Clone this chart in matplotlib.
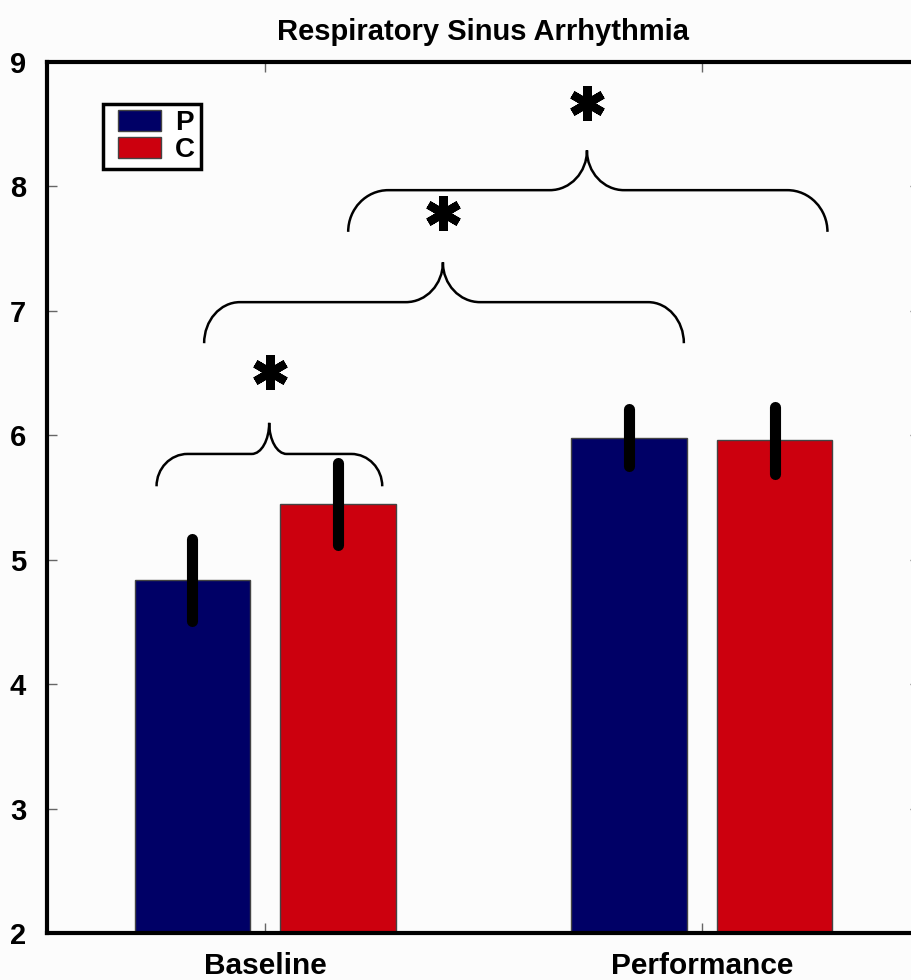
import matplotlib
matplotlib.use("Agg")
import matplotlib.pyplot as plt
from matplotlib.path import Path
from matplotlib.patches import PathPatch, Patch, Rectangle
from matplotlib.legend_handler import HandlerPatch

plt.rcParams['font.family'] = ['Liberation Sans', 'DejaVu Sans']
plt.rcParams['font.weight'] = 'bold'

# data
conditions = ["Baseline", "Performance"]
groups = ["P", "C"]
means_p = [4.84, 5.98]
means_c = [5.45, 5.96]
err_p = [0.33, 0.23]
err_c = [0.33, 0.27]
yticks = [2, 3, 4, 5, 6, 7, 8, 9]

# significance braces: (x_start, x_end, x_tip, y_end, y_line, y_tip, corner_r, tip_r)
braces = [
    (-0.249, 0.268, 0.009, 5.59, 5.85, 6.10, 0.071, 0.040),
    (-0.140, 0.959, 0.407, 6.74, 7.07, 7.39, 0.082, 0.085),
    (0.190, 1.288, 0.737, 7.635, 7.97, 8.29, 0.092, 0.085),
]
stars = [(0.011, 6.51), (0.407, 7.79), (0.737, 8.67)]

navy = "#000066"
red = "#cc000e"
bg = "#fcfcfc"

fig = plt.figure(figsize=(9.12, 9.8), dpi=100, facecolor=bg)
ax = fig.add_axes([47 / 912, 47 / 980, 873 / 912, 871 / 980], facecolor=bg)

x = list(range(len(conditions)))
off = 0.167
w = 0.265
xp = [i - off for i in x]
xc = [i + off for i in x]
ax.bar(xp, means_p, width=w, bottom=0, color=navy, edgecolor="#444444",
       linewidth=1.0, zorder=2)
ax.bar(xc, means_c, width=w, bottom=0, color=red, edgecolor="#444444",
       linewidth=1.0, zorder=2)

for xs, ms, es in ((xp, means_p, err_p), (xc, means_c, err_c)):
    eb = ax.errorbar(xs, ms, yerr=es, fmt="none", ecolor="black",
                     elinewidth=8, capsize=0, zorder=3)
    for lc in eb[2]:
        lc.set_capstyle("round")

k = 0.5523
for (x0, x1, xm, ye, yl, yt, r, rt) in braces:
    hy = yl - ye
    ty = yt - yl
    verts = [
        (x0, ye),
        (x0, ye + k * hy), (x0 + r * (1 - k), yl), (x0 + r, yl),
        (xm - rt, yl),
        (xm - rt + k * rt, yl), (xm, yt - k * ty), (xm, yt),
        (xm, yt - k * ty), (xm + rt - k * rt, yl), (xm + rt, yl),
        (x1 - r, yl),
        (x1 - r * (1 - k), yl), (x1, ye + k * hy), (x1, ye),
    ]
    codes = [Path.MOVETO,
             Path.CURVE4, Path.CURVE4, Path.CURVE4,
             Path.LINETO,
             Path.CURVE4, Path.CURVE4, Path.CURVE4,
             Path.CURVE4, Path.CURVE4, Path.CURVE4,
             Path.LINETO,
             Path.CURVE4, Path.CURVE4, Path.CURVE4]
    ax.add_patch(PathPatch(Path(verts, codes), facecolor="none",
                           edgecolor="black", linewidth=1.8, zorder=4))

for sx, sy in stars:
    ax.plot([sx], [sy], marker=(6, 2, 0), markersize=25,
            markeredgewidth=6, color="black", zorder=5)

ax.set_xlim(-0.5, 1.5)
ax.set_ylim(2, 9)
ax.set_yticks(yticks)
ax.set_yticklabels([str(t) for t in yticks], fontsize=21, fontweight="bold")
ax.set_xticks(x)
ax.set_xticklabels(conditions, fontsize=21.5, fontweight="bold")
ax.tick_params(axis="both", direction="in", length=7, width=1,
               color="#666666", top=True, right=True)
ax.tick_params(axis="y", pad=15)
ax.tick_params(axis="x", pad=14)

for side in ("left", "top", "bottom", "right"):
    ax.spines[side].set_linewidth(3)
    ax.spines[side].set_color("black")

ax.set_title("Respiratory Sinus Arrhythmia", fontsize=21, fontweight="bold",
             pad=16)


def inset_swatch(legend, orig_handle, xdescent, ydescent, width, height,
                 fontsize):
    # leave a small gap on the left of each legend swatch
    gap = 0.34 * fontsize
    return Rectangle((-xdescent + gap, -ydescent), width - gap, height)


handles = [Patch(facecolor=navy, edgecolor="#444444", linewidth=1),
           Patch(facecolor=red, edgecolor="#444444", linewidth=1)]
leg = ax.legend(handles, groups, loc="upper left",
                bbox_to_anchor=(0.064, 0.952), borderaxespad=0,
                prop={"size": 20, "weight": "bold"}, frameon=True,
                fancybox=False, edgecolor="black", facecolor="white",
                framealpha=1, handlelength=1.87, handleheight=0.76,
                labelspacing=0.05, handletextpad=0.5, borderpad=0.22,
                handler_map={Patch: HandlerPatch(patch_func=inset_swatch)})
leg.get_frame().set_linewidth(2.5)

fig.savefig("out.png", dpi=100, facecolor=bg)
